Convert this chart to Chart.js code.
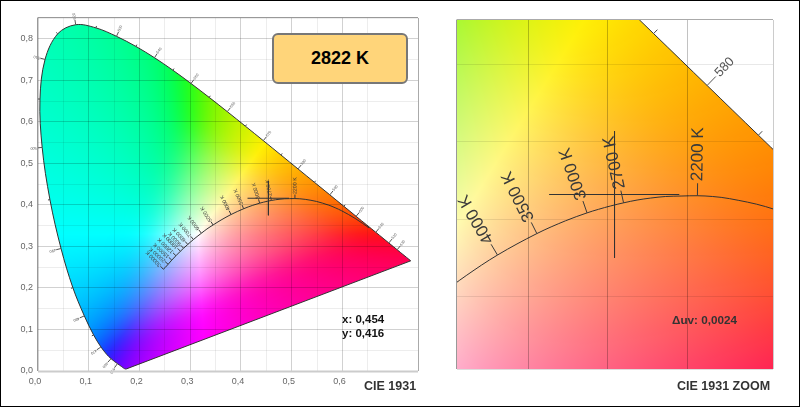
<!DOCTYPE html>
<html>
<head>
<meta charset="utf-8">
<title>CIE 1931</title>
<script src="https://cdn.jsdelivr.net/npm/chart.js@4"></script>
<style>
  html, body { margin: 0; padding: 0; background: #fff; }
  body { width: 800px; height: 407px; overflow: hidden; font-family: "Liberation Sans", Arial, sans-serif; }
  canvas { position: absolute; top: 0; }
  #frame { position: absolute; left: 0; top: 0; width: 798px; height: 405px; border: 1px solid #000; pointer-events: none; }
  .note { position: absolute; font-weight: bold; white-space: nowrap; color: #333; }
  #cct { position: absolute; left: 272px; top: 33px; width: 132px; height: 47px; line-height: 47px; text-align: center;
         background: #ffd57a; border: 2px solid #777; border-radius: 6px; font-weight: bold; font-size: 18px; color: #000; }
</style>
</head>
<body>
<canvas id="full" width="440" height="407" style="left:0"></canvas>
<canvas id="zoom" width="360" height="407" style="left:440px"></canvas>
<div id="cct">2822 K</div>
<div class="note" style="left:342px;top:313px;font-size:11.5px;color:#111">x: 0,454</div>
<div class="note" style="left:342px;top:327px;font-size:11.5px;color:#111">y: 0,416</div>
<div class="note" style="left:364px;top:379px;font-size:12.5px">CIE 1931</div>
<div class="note" style="left:672px;top:313px;font-size:11.7px">Δuv: 0,0024</div>
<div class="note" style="left:677px;top:379px;font-size:12.5px">CIE 1931 ZOOM</div>
<div id="frame"></div>
<script>
// spectral locus, read at 5 nm
const locusNm = [380,390,400,410,420,425,430,435,440,445,450,455,460,465,470,475,480,485,490,495,500,505,510,515,520,525,530,535,540,545,550,555,560,565,570,575,580,585,590,595,600,605,610,615,620,625,630,635,640,650,660,680,700];
const locusX = [.1741,.1738,.1733,.1726,.1714,.1703,.1689,.1669,.1644,.1611,.1566,.1510,.1440,.1355,.1241,.1096,.0913,.0687,.0454,.0235,.0082,.0039,.0139,.0389,.0743,.1142,.1547,.1929,.2296,.2658,.3016,.3373,.3731,.4087,.4441,.4788,.5125,.5448,.5752,.6029,.6270,.6482,.6658,.6801,.6915,.7006,.7079,.7140,.7190,.7260,.7300,.7334,.7347];
const locusY = [.0050,.0049,.0048,.0048,.0051,.0058,.0069,.0086,.0109,.0138,.0177,.0227,.0297,.0399,.0578,.0868,.1327,.2007,.2950,.4127,.5384,.6548,.7502,.8120,.8338,.8262,.8059,.7816,.7543,.7243,.6923,.6589,.6245,.5896,.5547,.5202,.4866,.4544,.4242,.3965,.3725,.3514,.3340,.3197,.3083,.2993,.2920,.2859,.2809,.2740,.2700,.2666,.2653];
const labelledNm = [450,460,470,480,490,500,510,520,530,540,550,560,570,580,590,600,610,620,630];
const plainNm = [475,485,495,505,515,525,535,545,555,565,575,585,595];

// black body curve
const planckK = [1000,1200,1400,1500,1600,1800,2000,2100,2200,2300,2400,2500,2600,2700,2800,2900,3000,3200,3500,4000,4500,5000,5500,6000,6500,7000,7500,8000,9000,10000,12000,15000,20000,25000,30000];
const planckX = [.6528,.6251,.5985,.5857,.5732,.5492,.5267,.5160,.5064,.4961,.4862,.4770,.4684,.4599,.4518,.4441,.4369,.4234,.4053,.3805,.3608,.3451,.3330,.3221,.3135,.3064,.3004,.2952,.2869,.2807,.2719,.2637,.2565,.2510,.2470];
const planckY = [.3444,.3674,.3858,.3931,.3993,.4082,.4133,.4147,.4152,.4150,.4147,.4137,.4124,.4106,.4086,.4064,.4041,.3990,.3907,.3768,.3635,.3516,.3420,.3318,.3237,.3166,.3103,.3048,.2956,.2884,.2776,.2670,.2570,.2495,.2450];
const labelledK = [2200,2700,3000,3500,4000,5000,6000,7000,8000,9000,10000,12000,15000,20000,30000];

// cross on the measured point
const crossHX = [.413,.495];
const crossHY = [.416,.416];
const crossVX = [.4542,.4542];
const crossVY = [.457,.375];

const xTickLabels = ['0,0','0,1','0,2','0,3','0,4','0,5','0,6'];
const yTickLabels = ['0,0','0,1','0,2','0,3','0,4','0,5','0,6','0,7','0,8'];

const pts = (xs, ys) => xs.map((x, i) => ({ x, y: ys[i] }));

function xyToRgb(x, y) {
  y = Math.max(y, 0.005);
  const X = x / y, Z = (1 - x - y) / y;
  let r = 3.2406 * X - 1.5372 - 0.4986 * Z;
  let g = -0.9689 * X + 1.8758 + 0.0415 * Z;
  let b = 0.0557 * X - 0.2040 + 1.0570 * Z;
  const low = Math.min(0, r, g, b);
  r -= low; g -= low; b -= low;
  const top = Math.max(r, g, b);
  return [r, g, b].map(v => {
    v /= top;
    return 255 * (v <= 0.0031308 ? 12.92 * v : 1.055 * Math.pow(v, 1 / 2.4) - 0.055);
  });
}

// colours on a coarse xy grid, softened so the gamut edges do not show
const CELL = 0.005, X0 = -0.1, Y0 = -0.05, NX = 200, NY = 220, BLUR = 5;
const table = new Float32Array(NX * NY * 3);
for (let j = 0; j < NY; j++) {
  for (let i = 0; i < NX; i++) {
    const c = xyToRgb(X0 + i * CELL, Y0 + j * CELL);
    table.set(c, (j * NX + i) * 3);
  }
}
function boxPass(step, count, lines, lineStep) {
  const buf = new Float32Array(count);
  for (let l = 0; l < lines; l++) {
    for (let ch = 0; ch < 3; ch++) {
      for (let n = 0; n < count; n++) buf[n] = table[(l * lineStep + n * step) * 3 + ch];
      for (let n = 0; n < count; n++) {
        let sum = 0;
        for (let d = -BLUR; d <= BLUR; d++) sum += buf[Math.min(count - 1, Math.max(0, n + d))];
        table[(l * lineStep + n * step) * 3 + ch] = sum / (2 * BLUR + 1);
      }
    }
  }
}
for (let pass = 0; pass < 3; pass++) {
  boxPass(1, NX, NY, NX);
  boxPass(NX, NY, NX, 1);
}
function softColour(x, y, out, k) {
  const fx = Math.min(NX - 1.001, Math.max(0, (x - X0) / CELL));
  const fy = Math.min(NY - 1.001, Math.max(0, (y - Y0) / CELL));
  const i = Math.floor(fx), j = Math.floor(fy), u = fx - i, v = fy - j;
  const rgb = [0, 0, 0];
  for (let ch = 0; ch < 3; ch++) {
    const a = table[(j * NX + i) * 3 + ch], b = table[(j * NX + i + 1) * 3 + ch];
    const c = table[((j + 1) * NX + i) * 3 + ch], d = table[((j + 1) * NX + i + 1) * 3 + ch];
    rgb[ch] = (a * (1 - u) + b * u) * (1 - v) + (c * (1 - u) + d * u) * v;
  }
  // blur dulls the colours, bring the strongest channel back to full
  const top = Math.max(rgb[0], rgb[1], rgb[2]);
  const low = Math.min(rgb[0], rgb[1], rgb[2]);
  for (let ch = 0; ch < 3; ch++) {
    out[k + ch] = Math.max(0, 255 - (top - rgb[ch]) * 255 / (top - low * 0.15));
  }
  // the yellows of the reference lean to orange
  out[k + 1] *= 1 - 0.06 * Math.max(0, out[k] - out[k + 2]) / 255;
  out[k + 3] = 255;
}

const cieFill = {
  id: 'cieFill',
  beforeDatasetsDraw(chart) {
    const { ctx, chartArea: a, scales } = chart;
    const w = Math.round(a.right - a.left), h = Math.round(a.bottom - a.top);
    const off = document.createElement('canvas');
    off.width = w; off.height = h;
    const o = off.getContext('2d');
    const img = o.createImageData(w, h);
    for (let j = 0; j < h; j++) {
      const yv = scales.y.getValueForPixel(a.top + j + 0.5);
      for (let i = 0; i < w; i++) {
        softColour(scales.x.getValueForPixel(a.left + i + 0.5), yv, img.data, (j * w + i) * 4);
      }
    }
    o.putImageData(img, 0, 0);
    const line = chart.getDatasetMeta(0).dataset;
    line.updateControlPoints(a);
    ctx.save();
    ctx.beginPath();
    line.path(ctx);
    ctx.closePath();
    ctx.clip();
    ctx.drawImage(off, a.left, a.top);
    ctx.restore();
  }
};

function tick(chart, xs, ys, i, len, sign) {
  const { x: sx, y: sy } = chart.scales;
  const p = k => [sx.getPixelForValue(xs[k]), sy.getPixelForValue(ys[k])];
  const [px, py] = p(i);
  const [ax, ay] = p(Math.max(i - 1, 0));
  const [bx, by] = p(Math.min(i + 1, xs.length - 1));
  const d = Math.hypot(bx - ax, by - ay);
  let nx = (by - ay) / d, ny = (ax - bx) / d;
  if (sign(nx, ny, px, py) < 0) { nx = -nx; ny = -ny; }
  return { px, py, nx, ny, ex: px + nx * len, ey: py + ny * len };
}

function drawTick(ctx, t, text, font, color, gap) {
  ctx.strokeStyle = color;
  ctx.lineWidth = 1;
  ctx.beginPath();
  ctx.moveTo(t.px, t.py);
  ctx.lineTo(t.ex, t.ey);
  ctx.stroke();
  if (!text) return;
  ctx.save();
  ctx.translate(t.ex + t.nx * gap, t.ey + t.ny * gap);
  ctx.rotate(Math.atan2(t.ny, t.nx));
  ctx.font = font;
  ctx.fillStyle = color;
  ctx.textAlign = 'left';
  ctx.textBaseline = 'middle';
  ctx.fillText(text, 0, 0);
  ctx.restore();
}

const cieMarks = {
  id: 'cieMarks',
  afterDraw(chart, args, opt) {
    const { ctx, chartArea: a, scales } = chart;
    const wx = scales.x.getPixelForValue(0.33), wy = scales.y.getPixelForValue(0.33);
    const away = (nx, ny, px, py) => nx * (px - wx) + ny * (py - wy);
    const up = (nx, ny) => -ny;
    const inside = (x, y) => x >= a.left && x <= a.right && y >= a.top && y <= a.bottom;

    ctx.save();
    if (opt.clip) {
      ctx.beginPath();
      ctx.rect(a.left, a.top, a.right - a.left, a.bottom - a.top);
      ctx.clip();
    }
    labelledK.forEach(k => {
      const i = planckK.indexOf(k);
      const t = tick(chart, planckX, planckY, i, opt.cctLen, up);
      if (!opt.clip || inside(t.px, t.py)) drawTick(ctx, t, k + ' K', opt.cctFont, '#3a3a3a', opt.gap);
    });
    labelledNm.forEach(nm => {
      const i = locusNm.indexOf(nm);
      const t = tick(chart, locusX, locusY, i, opt.nmLen, away);
      if (!opt.clip || inside(t.px, t.py)) drawTick(ctx, t, String(nm), opt.nmFont, '#555', opt.gap);
    });
    plainNm.forEach(nm => {
      const i = locusNm.indexOf(nm);
      const t = tick(chart, locusX, locusY, i, opt.nmShort, away);
      if (!opt.clip || inside(t.px, t.py)) drawTick(ctx, t, '', opt.nmFont, '#444', 0);
    });
    ctx.restore();

    // axes frame, each side has its own grey
    const side = (x0, y0, x1, y1, c, w) => {
      ctx.strokeStyle = c; ctx.lineWidth = w;
      ctx.beginPath(); ctx.moveTo(x0, y0); ctx.lineTo(x1, y1); ctx.stroke();
    };
    side(a.left - 0.5, a.top - 0.5, a.right, a.top - 0.5, opt.frame[0], 1);
    side(a.right + 0.5, a.top, a.right + 0.5, a.bottom, opt.frame[1], 1);
    side(a.left, a.bottom + 0.5, a.right, a.bottom + 0.5, opt.frame[2], opt.frameB);
    side(a.left - 0.5, a.top, a.left - 0.5, a.bottom, opt.frame[3], 1);
  }
};

function datasets(width) {
  const base = { showLine: true, pointRadius: 0, borderWidth: width, borderColor: '#333', fill: false };
  return [
    { ...base, data: pts(locusX, locusY), tension: 0.35, capBezierPoints: false },
    { ...base, data: pts([locusX[0], locusX[locusX.length - 1]], [locusY[0], locusY[locusY.length - 1]]) },
    { ...base, data: pts(planckX, planckY), tension: 0.35, capBezierPoints: false },
    { ...base, data: pts(crossHX, crossHY) },
    { ...base, data: pts(crossVX, crossVY) }
  ];
}

new Chart(document.getElementById('full'), {
  type: 'scatter',
  data: { datasets: datasets(1) },
  plugins: [cieFill, cieMarks],
  options: {
    responsive: false,
    animation: false,
    devicePixelRatio: 1,
    layout: { padding: { left: 0, top: 18, right: 22, bottom: 0 } },
    plugins: {
      legend: { display: false },
      tooltip: { enabled: false },
      cieMarks: {
        cctLen: 4, cctFont: '5.3px "Liberation Sans"', nmLen: 5, nmShort: 2,
        nmFont: '3.8px "Liberation Sans"', gap: 0.5, clip: false,
        frame: ['#999', '#aaa', '#ccc', '#999'], frameB: 2
      }
    },
    scales: {
      x: {
        type: 'linear', min: 0, max: 0.749,
        afterFit: s => { s.height = 36; },
        afterBuildTicks: s => { s.ticks = s.ticks.concat({ value: 0.749 }); },
        border: { display: false },
        grid: { z: 1, drawTicks: false, color: c => (c.index % 2 ? 'rgba(0,0,0,0.07)' : 'rgba(0,0,0,0.18)') },
        ticks: {
          stepSize: 0.05, autoSkip: false, maxRotation: 0, padding: 5, labelOffset: -3,
          color: '#666', font: { family: 'Liberation Sans', size: 9 },
          callback: (v, i) => (i % 2 ? '' : xTickLabels[i / 2] || '')
        }
      },
      y: {
        type: 'linear', min: 0, max: 0.85,
        afterFit: s => { s.width = 38; },
        border: { display: false },
        grid: { z: 1, drawTicks: false, color: c => (c.index % 2 ? 'rgba(0,0,0,0.07)' : 'rgba(0,0,0,0.18)') },
        ticks: {
          stepSize: 0.05, autoSkip: false, padding: 5,
          color: '#666', font: { family: 'Liberation Sans', size: 9 },
          callback: (v, i) => (i % 2 ? '' : yTickLabels[i / 2] || '')
        }
      }
    }
  }
});

new Chart(document.getElementById('zoom'), {
  type: 'scatter',
  data: { datasets: datasets(1) },
  plugins: [cieFill, cieMarks],
  options: {
    responsive: false,
    animation: false,
    devicePixelRatio: 1,
    layout: { padding: { left: 17, top: 20, right: 27, bottom: 38 } },
    plugins: {
      legend: { display: false },
      tooltip: { enabled: false },
      cieMarks: {
        cctLen: 12.5, cctFont: '17px "Liberation Sans"', nmLen: 12.5, nmShort: 5.5,
        nmFont: '13px "Liberation Sans"', gap: 2, clip: true,
        frame: ['#aaa', '#ccc', '#ddd', '#999'], frameB: 1
      }
    },
    scales: {
      x: {
        type: 'linear', min: 0.355, max: 0.554, display: true,
        afterFit: s => { s.height = 0; },
        border: { display: false },
        grid: { z: 1, drawTicks: false, color: 'rgba(0,0,0,0.24)' },
        ticks: { display: false, stepSize: 0.05, callback: v => v },
        afterBuildTicks: s => { s.ticks = [{ value: 0.4 }, { value: 0.45 }, { value: 0.5 }]; }
      },
      y: {
        type: 'linear', min: 0.303, max: 0.529, display: true,
        afterFit: s => { s.width = 0; },
        border: { display: false },
        grid: { z: 1, drawTicks: false, color: 'rgba(0,0,0,0.09)' },
        ticks: { display: false, stepSize: 0.05, callback: v => v },
        afterBuildTicks: s => { s.ticks = [{ value: 0.35 }, { value: 0.4 }, { value: 0.45 }, { value: 0.5 }]; }
      }
    }
  }
});
</script>
</body>
</html>
